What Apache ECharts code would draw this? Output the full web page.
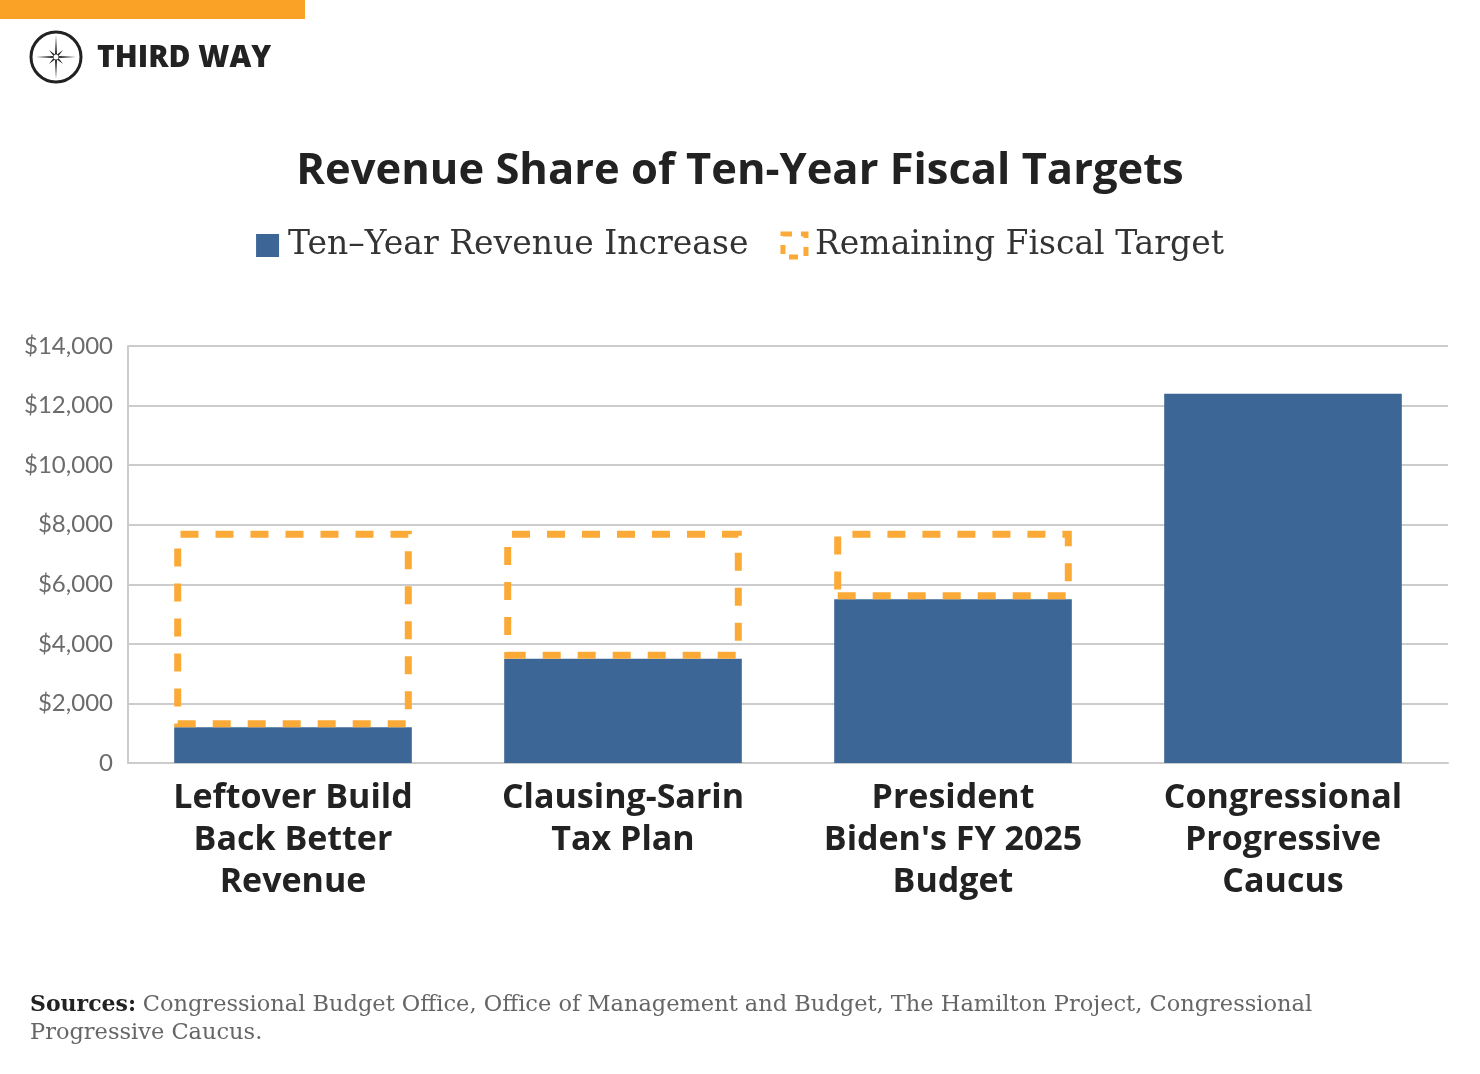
<!DOCTYPE html>
<html>
<head>
<meta charset="utf-8">
<script src="https://cdn.jsdelivr.net/npm/echarts@6/dist/echarts.min.js"></script>
<style>
html,body{margin:0;padding:0;background:#fff;}
#chart{width:1480px;height:1074px;}
</style>
</head>
<body>
<div id="chart"></div>
<script>
const categories = [
  "Leftover Build\nBack Better\nRevenue",
  "Clausing-Sarin\nTax Plan",
  "President\nBiden's FY 2025\nBudget",
  "Congressional\nProgressive\nCaucus"
];
const revenueIncrease = [1200, 3500, 5500, 12400];
const remainingTarget = [6600, 4300, 2300, null];
const yTicks = [0, 2000, 4000, 6000, 8000, 10000, 12000, 14000];

const BLUE = '#3B6696';
const ORANGE = '#FBAA37';

const chart = echarts.init(document.getElementById('chart'));

// compass star points (logo)
function starPoints(cx, cy) {
  const pts = [];
  const diag = 10, inner = 2.6;
  for (let i = 0; i < 8; i++) {
    const a = -Math.PI/2 + i * Math.PI/4;
    const r = (i % 2 === 0) ? (i % 4 === 0 ? 22 : 20) : diag;
    pts.push([cx + r*Math.cos(a), cy + r*Math.sin(a)]);
    const b = a + Math.PI/8;
    pts.push([cx + inner*Math.cos(b), cy + inner*Math.sin(b)]);
  }
  return pts;
}

const option = {
  backgroundColor: '#ffffff',
  animation: false,
  title: {
    text: 'Revenue Share of Ten-Year Fiscal Targets',
    left: 'center',
    top: 145,
    textStyle: {
      fontFamily: 'Open Sans',
      fontWeight: 'bold',
      fontSize: 43.5,
      color: '#222222'
    }
  },
  legend: {
    top: 224,
    left: 'center',
    itemWidth: 23,
    itemHeight: 23,
    itemGap: 32,
    icon: 'rect',
    textStyle: {
      fontFamily: 'DejaVu Serif',
      fontSize: 33,
      color: '#333333',
      padding: [0, 0, 0, 4]
    },
    data: [
      { name: 'Ten–Year Revenue Increase', itemStyle: { color: BLUE } },
      { name: 'Remaining Fiscal Target', itemStyle: { color: 'rgba(0,0,0,0)', borderColor: ORANGE, borderWidth: 5, borderType: [9, 9] } }
    ]
  },
  grid: {
    left: 128,
    right: 32,
    top: 346,
    bottom: 311,
    containLabel: false
  },
  xAxis: {
    type: 'category',
    data: categories,
    axisLine: { show: true, lineStyle: { color: '#cccccc', width: 2 } },
    axisTick: { show: false },
    axisLabel: {
      interval: 0,
      margin: 14,
      fontFamily: 'Open Sans',
      fontWeight: 'bold',
      fontSize: 34,
      lineHeight: 42,
      color: '#222222'
    }
  },
  yAxis: {
    type: 'value',
    min: 0,
    max: 14000,
    interval: 2000,
    axisLine: { show: true, lineStyle: { color: '#cccccc', width: 2 } },
    axisTick: { show: false },
    splitLine: { show: true, lineStyle: { color: '#cccccc', width: 2 } },
    axisLabel: {
      margin: 15,
      fontFamily: 'Lato',
      fontSize: 24,
      color: '#6b6b6b',
      formatter: function (v) {
        if (yTicks.indexOf(v) < 0) return '';
        return v === 0 ? '0' : '$' + v.toLocaleString('en-US');
      }
    }
  },
  series: [
    {
      name: 'Ten–Year Revenue Increase',
      type: 'bar',
      stack: 'total',
      barWidth: '72%',
      data: revenueIncrease,
      itemStyle: { color: BLUE }
    },
    {
      name: 'Remaining Fiscal Target',
      type: 'bar',
      stack: 'total',
      barWidth: '72%',
      data: remainingTarget,
      itemStyle: {
        color: 'rgba(0,0,0,0)',
        borderColor: ORANGE,
        borderWidth: 7,
        borderType: [18, 17]
      }
    }
  ],
  graphic: [
    { type: 'rect', left: 0, top: 0, shape: { width: 305, height: 19 }, style: { fill: '#F9A226' } },
    { type: 'circle', shape: { cx: 56, cy: 57, r: 25 }, style: { fill: 'none', stroke: '#222222', lineWidth: 3 } },
    { type: 'polygon', shape: { points: starPoints(56, 57) }, style: { fill: '#222222' } },
    { type: 'circle', shape: { cx: 56, cy: 57, r: 2.5 }, style: { fill: '#ffffff' } },
    {
      type: 'text', left: 97, top: 43,
      style: { text: 'THIRD WAY', fontFamily: 'Open Sans', fontWeight: 800, fontSize: 30, fill: '#222222' }
    },
    {
      type: 'text', left: 30, top: 994,
      style: {
        text: '{b|Sources:}  {n|Congressional Budget Office, Office of Management and Budget, The Hamilton Project, Congressional}\n{n|Progressive Caucus.}',
        rich: {
          b: { fontFamily: 'DejaVu Serif', fontWeight: 'bold', fontSize: 22, fill: '#222222', lineHeight: 28 },
          n: { fontFamily: 'DejaVu Serif', fontSize: 22.5, fill: '#666666', lineHeight: 28 }
        }
      }
    }
  ]
};

chart.setOption(option);
</script>
</body>
</html>
